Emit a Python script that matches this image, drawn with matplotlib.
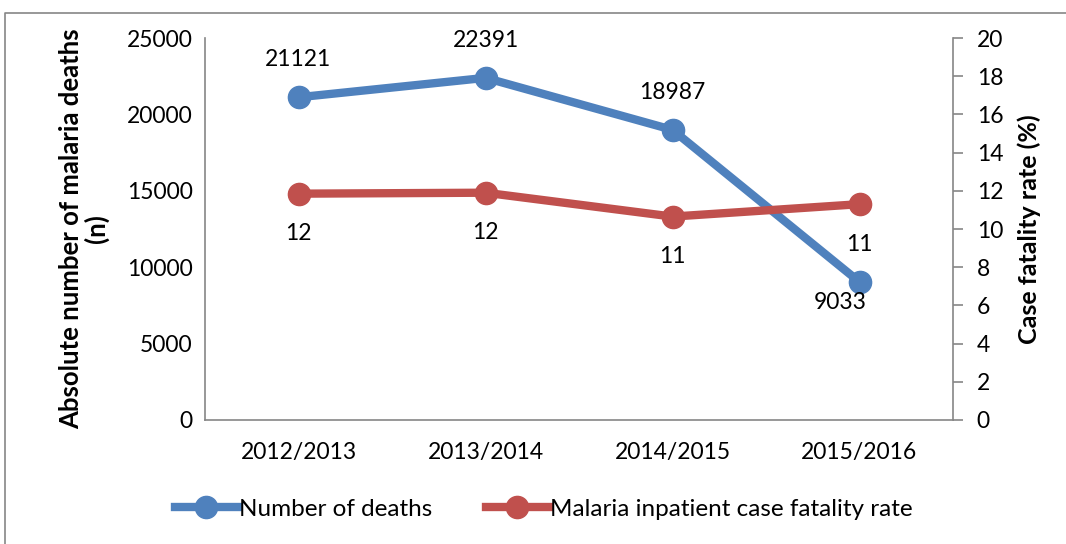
#!/usr/bin/env python3

# Malaria deaths and inpatient case fatality rate, dual axis line chart

import matplotlib.pyplot as plt
from matplotlib.lines import Line2D

plt.rcParams['font.family'] = ['Lato', 'DejaVu Sans']

years = ["2012/2013", "2013/2014", "2014/2015", "2015/2016"]
deaths = [21121, 22391, 18987, 9033]
cfr = [11.85, 11.9, 10.65, 11.3]
cfr_labels = ["12", "12", "11", "11"]

BLUE = "#4F81BD"
RED = "#C0504D"
GREY = "#868686"
FS = 16.5

fig = plt.figure(figsize=(10.66, 5.44), dpi=100)
ax = fig.add_axes([205/1066, 1 - 420/544, 748/1066, 382/544])
ax2 = ax.twinx()

x = list(range(len(years)))

ax.plot(x, deaths, color=BLUE, lw=6, marker="o", ms=16, label="Number of deaths", zorder=3)
ax2.plot(x, cfr, color=RED, lw=6, marker="o", ms=16,
         label="Malaria inpatient case fatality rate", zorder=3)

ax.set_xlim(-0.5, len(years) - 0.5)
ax.set_ylim(0, 25000)
ax2.set_ylim(0, 20)
ax.set_yticks(range(0, 25001, 5000))
ax2.set_yticks(range(0, 21, 2))
ax.set_xticks(x)
ax.set_xticklabels(years)

for a in (ax, ax2):
    a.spines["top"].set_visible(False)
    for s in ("left", "right", "bottom"):
        a.spines[s].set_color(GREY)
        a.spines[s].set_linewidth(1.2)
ax.spines["right"].set_visible(False)
ax2.spines["left"].set_visible(False)
ax2.spines["bottom"].set_visible(False)

ax.tick_params(axis="y", length=0, labelsize=FS, pad=9)
ax.tick_params(axis="x", length=0, labelsize=FS, pad=16)
ax2.tick_params(axis="y", length=7, width=1.2, color=GREY, labelsize=FS, pad=10)

ax.set_ylabel("Absolute number of malaria deaths\n(n)", fontsize=18.5, fontweight="bold",
              labelpad=13, linespacing=1.0)
ax2.set_ylabel("Case fatality rate (%)", fontsize=18, fontweight="bold", labelpad=10)

# data labels
death_offsets = [(0, 27), (0, 27), (0, 27), (-14, -15)]
for xi, v, off in zip(x, deaths, death_offsets):
    ax.annotate(str(v), (xi, v), xytext=off, textcoords="offset points",
                ha="center", va="center", fontsize=FS)
for xi, v, lab in zip(x, cfr, cfr_labels):
    ax2.annotate(lab, (xi, v), xytext=(0, -29), textcoords="offset points",
                 ha="center", va="center", fontsize=FS)

h1, l1 = ax.get_legend_handles_labels()
h2, l2 = ax2.get_legend_handles_labels()
fig.legend(h1 + h2, l1 + l2, loc="center", bbox_to_anchor=(0.51, 1 - 509/544),
           ncol=2, frameon=False, fontsize=17.5, handlelength=2.6, handletextpad=0.05,
           columnspacing=2.2)

# outer chart border (left and top edges only are visible)
fig.add_artist(Line2D([5/1066, 5/1066, 1], [0, 1 - 13/544, 1 - 13/544],
                      transform=fig.transFigure, color=GREY, lw=1.2))

fig.savefig("out.png", dpi=100)
print('Done.')
